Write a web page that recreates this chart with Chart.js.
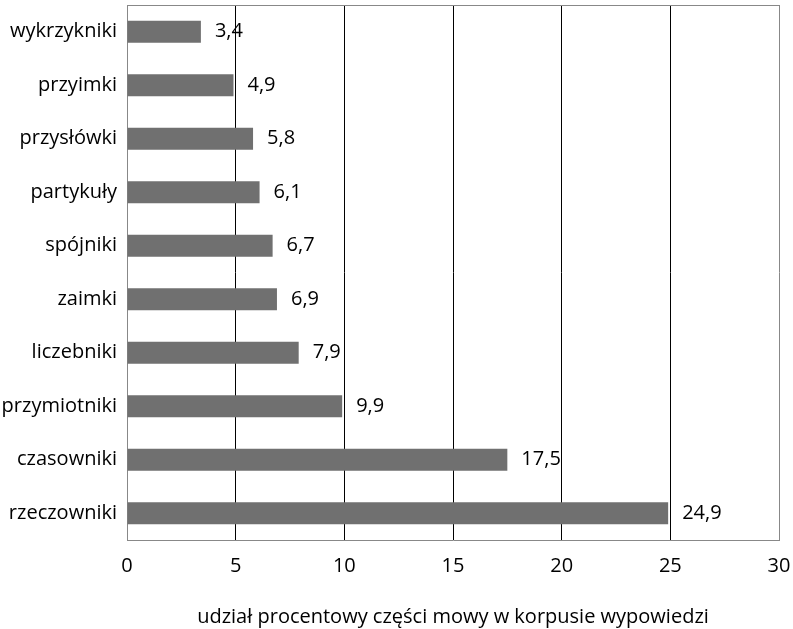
<!DOCTYPE html>
<html>
<head>
<meta charset="utf-8">
<script src="https://cdn.jsdelivr.net/npm/chart.js@4"></script>
<style>
  body { margin: 0; background: #fff; }
  #wrap { width: 793px; height: 629px; }
</style>
</head>
<body>
<div id="wrap"><canvas id="chart"></canvas></div>
<script>
const categories = ['wykrzykniki', 'przyimki', 'przysłówki', 'partykuły', 'spójniki', 'zaimki', 'liczebniki', 'przymiotniki', 'czasowniki', 'rzeczowniki'];
const values = [3.4, 4.9, 5.8, 6.1, 6.7, 6.9, 7.9, 9.9, 17.5, 24.9];
const xTicks = [0, 5, 10, 15, 20, 25, 30];
const axisTitle = 'udział procentowy części mowy w korpusie wypowiedzi';

Chart.defaults.font.family = '"Open Sans", "Noto Sans", sans-serif';
Chart.defaults.color = '#000';

const valueLabels = {
    id: 'valueLabels',
    afterDatasetsDraw(chart) {
        const ctx = chart.ctx;
        const meta = chart.getDatasetMeta(0);
        ctx.save();
        ctx.font = '20px "Open Sans", "Noto Sans", sans-serif';
        ctx.fillStyle = '#000';
        ctx.textAlign = 'left';
        ctx.textBaseline = 'middle';
        meta.data.forEach(function (bar, i) {
            ctx.fillText(values[i].toString().replace('.', ','), bar.x + 14, bar.y);
        });
        ctx.restore();
    }
};

// drop the extra edge padding Chart.js reserves for tick labels
function noEdgePadding(scale) {
    scale.paddingTop = 0;
    scale.paddingBottom = 0;
    scale.paddingLeft = 0;
    scale.paddingRight = 0;
}

new Chart(document.getElementById('chart'), {
    type: 'bar',
    data: {
        labels: categories,
        datasets: [{
            data: values,
            backgroundColor: '#707070',
            borderWidth: 0,
            categoryPercentage: 1,
            barPercentage: 0.41
        }]
    },
    options: {
        indexAxis: 'y',
        responsive: true,
        maintainAspectRatio: false,
        animation: false,
        layout: { padding: { top: 5, right: 14, left: 0, bottom: 0 } },
        plugins: {
            legend: { display: false },
            tooltip: { enabled: false }
        },
        scales: {
            x: {
                min: 0,
                max: 30,
                afterBuildTicks(axis) {
                    axis.ticks = xTicks.map(v => ({ value: v }));
                },
                afterFit: noEdgePadding,
                grid: {
                    color: function (c) {
                        return (c.tick.value === 0 || c.tick.value === 30) ? '#888' : '#000';
                    },
                    lineWidth: 1,
                    drawTicks: false
                },
                border: { color: '#888' },
                ticks: { font: { size: 20 }, padding: 14 },
                title: {
                    display: true,
                    text: axisTitle,
                    font: { size: 20 },
                    padding: { top: 13, bottom: 0 }
                }
            },
            y: {
                afterFit(scale) {
                    noEdgePadding(scale);
                    scale.width = 127;
                },
                grid: { display: false, drawTicks: false },
                border: { color: '#888' },
                ticks: { font: { size: 20 }, padding: 10 }
            }
        }
    },
    plugins: [valueLabels, {
        id: 'topBorder',
        afterDraw(chart) {
            const a = chart.chartArea;
            const ctx = chart.ctx;
            ctx.save();
            ctx.strokeStyle = '#888';
            ctx.lineWidth = 1;
            ctx.beginPath();
            ctx.moveTo(a.left, a.top + 0.5);
            ctx.lineTo(a.right, a.top + 0.5);
            ctx.stroke();
            ctx.restore();
        }
    }]
});
</script>
</body>
</html>
